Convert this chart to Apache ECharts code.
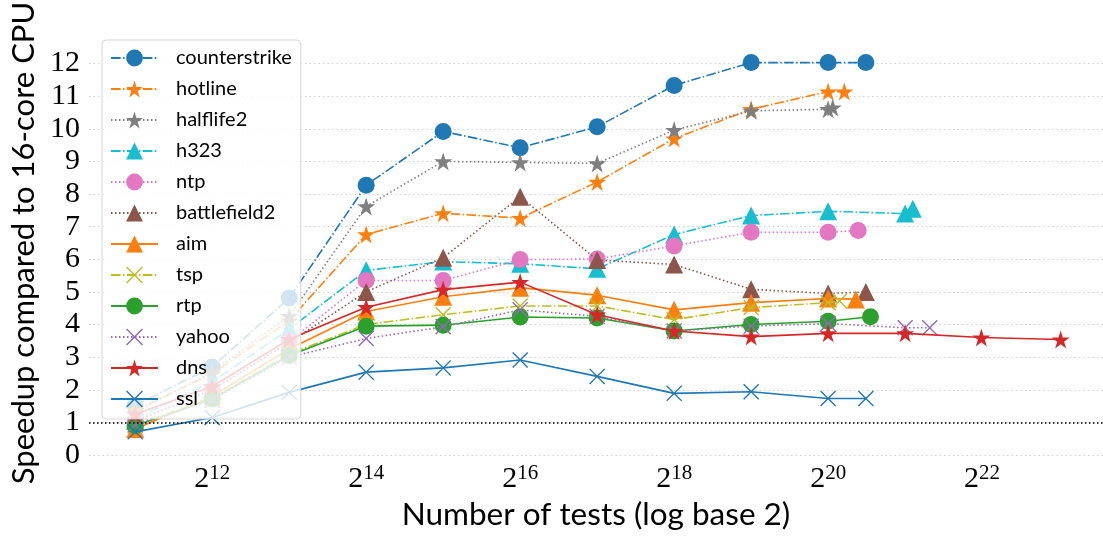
<!DOCTYPE html>
<html>
<head>
<meta charset="utf-8">
<script src="https://cdn.jsdelivr.net/npm/echarts@6/dist/echarts.min.js"></script>
<style>
html,body{margin:0;padding:0;background:#fff;}
#c{width:1103px;height:536px;}
</style>
</head>
<body>
<div id="c"></div>
<script>
// log2 of number of tests (shared points)
const testsLog2 = [11, 12, 13, 14, 15, 16, 17, 18, 19, 20];
const xTickExps = [12, 14, 16, 18, 20, 22];
const yTicks = [0, 1, 2, 3, 4, 5, 6, 7, 8, 9, 10, 11, 12];

const counterstrike = [1.52, 2.70, 4.81, 8.27, 9.92, 9.42, 10.06, 11.33, 12.03, 12.03];
const counterstrikeExtraX = [20.49];
const counterstrikeExtraY = [12.03];

const hotline = [1.37, 2.49, 4.12, 6.76, 7.41, 7.26, 8.37, 9.70, 10.60, 11.14];
const hotlineExtraX = [20.21];
const hotlineExtraY = [11.14];

const halflife2 = [1.30, 2.55, 4.26, 7.62, 9.00, 8.97, 8.94, 9.96, 10.55, 10.60];
const halflife2ExtraX = [20.06];
const halflife2ExtraY = [10.65];

const h323 = [1.12, 2.24, 3.86, 5.66, 5.93, 5.86, 5.71, 6.76, 7.34, 7.47];
const h323ExtraX = [21.0, 21.1];
const h323ExtraY = [7.40, 7.55];

const ntp = [1.02, 1.99, 3.48, 5.35, 5.35, 5.99, 6.01, 6.41, 6.83, 6.83];
const ntpExtraX = [20.39];
const ntpExtraY = [6.88];

const battlefield2 = [1.05, 2.00, 3.45, 5.00, 6.05, 7.92, 5.98, 5.84, 5.08, 4.95];
const battlefield2ExtraX = [20.49];
const battlefield2ExtraY = [5.00];

const aim = [0.80, 1.80, 3.25, 4.40, 4.85, 5.13, 4.90, 4.45, 4.67, 4.80];
const aimExtraX = [20.36];
const aimExtraY = [4.77];

const tsp = [0.95, 1.75, 3.10, 4.00, 4.30, 4.57, 4.57, 4.15, 4.52, 4.67];
const tspExtraX = [20.15];
const tspExtraY = [4.72];

const rtp = [0.90, 1.72, 3.05, 3.95, 3.98, 4.23, 4.20, 3.80, 4.00, 4.10];
const rtpExtraX = [20.55];
const rtpExtraY = [4.24];

const yahoo = [0.92, 1.68, 3.00, 3.57, 3.93, 4.45, 4.25, 3.80, 3.95, 4.03];
const yahooExtraX = [21.0, 21.32];
const yahooExtraY = [3.90, 3.90];

const dns = [1.25, 2.10, 3.55, 4.53, 5.07, 5.30, 4.30, 3.80, 3.63, 3.73];
const dnsExtraX = [21.0, 21.99, 23.02];
const dnsExtraY = [3.73, 3.60, 3.54];

const ssl = [0.71, 1.15, 1.92, 2.54, 2.67, 2.91, 2.41, 1.89, 1.94, 1.73];
const sslExtraX = [20.49];
const sslExtraY = [1.73];

// ---- styling ----
const STAR = 'path://M50 0 L61.23 34.55 L97.55 34.55 L68.17 55.9 L79.39 90.45 L50 69.1 L20.61 90.45 L31.83 55.9 L2.45 34.55 L38.77 34.55 Z';
const XMARK = 'path://M6 0 L50 44 L94 0 L100 6 L56 50 L100 94 L94 100 L50 56 L6 100 L0 94 L44 50 L0 6 Z';
const DASHDOT = [9.6, 2.4, 1.5, 2.4];
const DOTTED = [1.5, 2.5];
const SOLID = 'solid';

function pts(vals, ex, ey) {
  const out = testsLog2.map((e, i) => [e, vals[i]]);
  ex.forEach((e, i) => out.push([e, ey[i]]));
  return out;
}

const seriesDefs = [
  ['counterstrike', pts(counterstrike, counterstrikeExtraX, counterstrikeExtraY), '#1f77b4', DASHDOT, 'circle', 17],
  ['hotline', pts(hotline, hotlineExtraX, hotlineExtraY), '#ff7f0e', DASHDOT, STAR, 18],
  ['halflife2', pts(halflife2, halflife2ExtraX, halflife2ExtraY), '#7f7f7f', DOTTED, STAR, 18],
  ['h323', pts(h323, h323ExtraX, h323ExtraY), '#17becf', DASHDOT, 'triangle', 18],
  ['ntp', pts(ntp, ntpExtraX, ntpExtraY), '#e377c2', DOTTED, 'circle', 17],
  ['battlefield2', pts(battlefield2, battlefield2ExtraX, battlefield2ExtraY), '#8c564b', DOTTED, 'triangle', 18],
  ['aim', pts(aim, aimExtraX, aimExtraY), '#ff7f0e', SOLID, 'triangle', 18],
  ['tsp', pts(tsp, tspExtraX, tspExtraY), '#bcbd22', DASHDOT, XMARK, 16],
  ['rtp', pts(rtp, rtpExtraX, rtpExtraY), '#2ca02c', SOLID, 'circle', 17],
  ['yahoo', pts(yahoo, yahooExtraX, yahooExtraY), '#9467bd', DOTTED, XMARK, 16],
  ['dns', pts(dns, dnsExtraX, dnsExtraY), '#d62728', SOLID, STAR, 18],
  ['ssl', pts(ssl, sslExtraX, sslExtraY), '#1f77b4', SOLID, XMARK, 16]
];

const SERIF = '"Liberation Serif", "DejaVu Serif", serif';
const SANS = 'Lato, "Open Sans", sans-serif';

const series = seriesDefs.map((d, i) => {
  const s = {
    name: d[0],
    type: 'line',
    data: d[1],
    symbol: d[4],
    symbolSize: d[5],
    showSymbol: true,
    color: d[2],
    lineStyle: { color: d[2], width: 1.6, type: d[3] },
    itemStyle: { color: d[2] },
    emphasis: { disabled: true },
    z: 2 + i * 0.01
  };
  if (i === 0) {
    s.markLine = {
      silent: true,
      symbol: ['none', 'none'],
      label: { show: false },
      lineStyle: { color: '#000', width: 1.5, type: [1.5, 2.5] },
      data: [{ yAxis: 1 }]
    };
  }
  return s;
});

// grid line colours: visible for 0..12, hidden for the top boundary (13)
const gridColors = yTicks.map(() => 'rgba(0,0,0,0.18)').concat(['rgba(0,0,0,0)']);

const chart = echarts.init(document.getElementById('c'), null, { renderer: 'canvas' });
chart.setOption({
  animation: false,
  backgroundColor: '#fff',
  grid: { left: 89, right: 0, top: 457.5 - 33.15 * 13, bottom: 536 - 457.5 },
  legend: {
    orient: 'vertical',
    left: 102,
    top: 40,
    itemWidth: 47,
    itemHeight: 21,
    itemGap: 11,
    padding: [8, 9, 10, 8],
    backgroundColor: 'rgba(255,255,255,0.8)',
    borderColor: 'rgba(204,204,204,0.8)',
    borderWidth: 1,
    borderRadius: 4,
    textStyle: { fontFamily: SANS, fontSize: 20, color: '#000', padding: [0, 0, 0, 13] },
    data: seriesDefs.map(d => d[0])
  },
  xAxis: {
    type: 'value',
    min: 10.4,
    max: 23.57,
    name: 'Number of tests (log base 2)',
    nameLocation: 'middle',
    nameGap: 44,
    nameTextStyle: { fontFamily: SANS, fontSize: 31.5, color: '#000' },
    axisLine: { show: false },
    axisTick: { show: false },
    splitLine: { show: false },
    axisLabel: {
      customValues: xTickExps,
      margin: 8,
      formatter: v => '{b|2}{s|' + v + '}',
      rich: {
        b: { fontFamily: SERIF, fontSize: 30, color: '#000', lineHeight: 32 },
        s: { fontFamily: SERIF, fontSize: 21, color: '#000', verticalAlign: 'top', lineHeight: 20 }
      }
    }
  },
  yAxis: {
    type: 'value',
    min: 0,
    max: 13,
    interval: 1,
    name: 'Speedup compared to 16-core CPU',
    nameLocation: 'middle',
    nameGap: 42,
    nameTextStyle: { fontFamily: SANS, fontSize: 31, color: '#000' },
    axisLine: { show: false },
    axisTick: { show: false },
    axisLabel: {
      margin: 9,
      fontFamily: SERIF,
      fontSize: 30,
      color: '#000',
      formatter: v => (yTicks.indexOf(v) >= 0 ? String(v) : '')
    },
    splitLine: { show: true, lineStyle: { color: gridColors, width: 1, type: [1.5, 3] } }
  },
  series: series
});
</script>
</body>
</html>
